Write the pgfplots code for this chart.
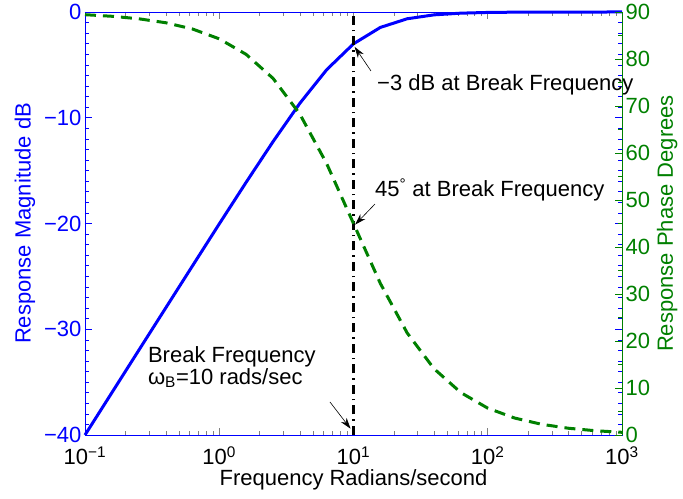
\documentclass[border=0pt]{standalone}
\usepackage{pgfplots}
\pgfplotsset{compat=1.18}
\usepackage{fontspec}
\setmainfont{Liberation Sans}
\usetikzlibrary{arrows.meta}
\definecolor{mblue}{rgb}{0,0,1}
\definecolor{mgreen}{rgb}{0,0.5,0}
\begin{document}
\begin{tikzpicture}
\pgfplotsset{every axis/.append style={
  font=\fontsize{22}{24}\selectfont,
  scale only axis, width=537pt, height=423pt,
  xmode=log, xmin=0.1, xmax=1000,
  tick align=inside,
  /pgf/number format/assume math mode=true,
  major tick length=7pt, minor tick length=4pt,
  tick style={line width=0.6pt},
  axis line style={line width=0.8pt},
}}
\begin{axis}[
  ymin=-40, ymax=0,
  ytick={-40,-30,-20,-10,0},
  yticklabels={−40,−30,−20,−10,0},
  minor y tick num=9,
  xtick={0.1,1,10,100,1000},
  xticklabels={10\textsuperscript{−1},10\textsuperscript{0},10\textsuperscript{1},10\textsuperscript{2},10\textsuperscript{3}},
  x tick label style={anchor=base, yshift=-30pt},
  y tick style={mblue},
  y axis line style={mblue},
  y tick label style={text=mblue},
  ylabel={Response Magnitude dB},
  ylabel style={text=mblue, yshift=2pt},
  xlabel={Frequency Radians/second},
  xlabel style={at={(axis description cs:0.5,0)}, anchor=base, yshift=-51pt},
  clip=false,
]
\coordinate (bl) at (rel axis cs:0,0);
\coordinate (tr) at (rel axis cs:1,1);
\addplot[mblue, line width=3pt] coordinates {
(0.1,-40.00) (0.1585,-36.00) (0.2512,-32.00) (0.3981,-28.01) (0.631,-24.02)
(1,-20.04) (1.585,-16.11) (2.512,-12.27) (3.981,-8.64) (6.31,-5.46)
(10,-3.01) (15.85,-1.46) (25.12,-0.64) (39.81,-0.27) (63.1,-0.11)
(100,-0.043) (158.5,-0.017) (251.2,-0.0069) (398.1,-0.0027) (631,-0.0011) (1000,-0.0004)
};
\addplot[black, line width=3.2pt, dash pattern=on 9pt off 5pt on 1.5pt off 5pt] coordinates {(10,-40) (10,0)};
\draw[-{Stealth[length=11pt,width=7pt]}, line width=0.6pt] (axis cs:13.5,-5.58) -- (axis cs:10.2,-3.3);
\draw[-{Stealth[length=11pt,width=7pt]}, line width=0.6pt] (axis cs:14.45,-18.16) -- (axis cs:10.3,-20.1);
\draw[-{Stealth[length=11pt,width=7pt]}, line width=0.6pt] (axis cs:6.68,-36.88) -- (axis cs:9.5,-39.4);
\node[anchor=west, inner sep=0pt] at (axis cs:14.96,-6.9) {−3 dB at Break Frequency};
\node[anchor=west, inner sep=0pt] at (axis cs:14.45,-16.83) {45\textsuperscript{°} at Break Frequency};
\node[anchor=west, inner sep=0pt, align=left, font=\fontsize{22}{22}\selectfont] at (axis cs:0.294,-33.57) {Break Frequency\\ω\textsubscript{B}=10 rads/sec};
\end{axis}
\begin{axis}[
  axis x line=none,
  axis y line*=right,
  ymin=0, ymax=90,
  ytick={0,10,...,90},
  minor y tick num=1,
  y tick style={mgreen},
  y axis line style={mgreen},
  y tick label style={text=mgreen},
  ylabel={Response Phase Degrees},
  ylabel style={text=mgreen},
]
\addplot[mgreen, line width=3pt, dash pattern=on 11pt off 7pt] coordinates {
(0.1,89.43) (0.1585,89.09) (0.2512,88.56) (0.3981,87.72) (0.631,86.39)
(1,84.29) (1.585,80.99) (2.512,75.90) (3.981,68.30) (6.31,57.75)
(10,45.00) (15.85,32.25) (25.12,21.70) (39.81,14.10) (63.1,9.01)
(100,5.71) (158.5,3.61) (251.2,2.28) (398.1,1.44) (631,0.91) (1000,0.57)
};
\end{axis}
\pgfresetboundingbox
\path ([xshift=-85pt,yshift=-64pt]bl) rectangle ([xshift=61pt,yshift=12pt]tr);
\end{tikzpicture}
\end{document}
